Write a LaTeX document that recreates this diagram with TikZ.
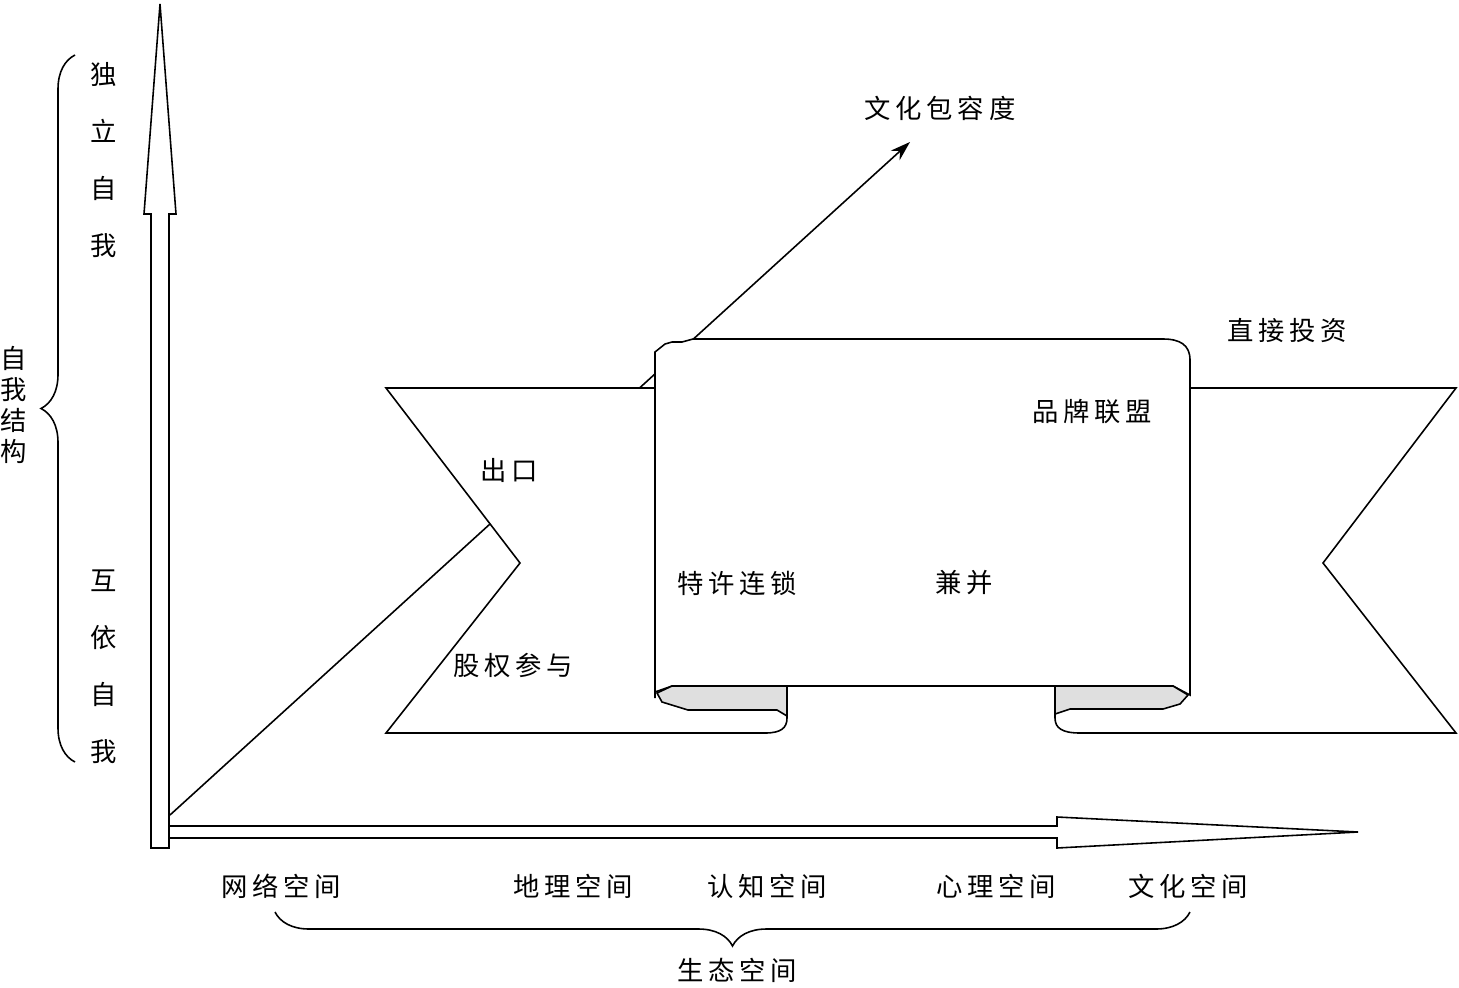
\documentclass[tikz,border=0pt]{standalone}
\usepackage{fontspec}
\newfontfamily\cjk[LetterSpace=18]{Noto Sans CJK SC}
\usetikzlibrary{arrows.meta,decorations.pathreplacing}

\tikzset{
    outline/.style={draw, line width=0.9pt, line join=miter},
    hollowarrow/.style={outline, fill=white},
    rollpart/.style={outline, fill=gray!25},
    label/.style={font=\cjk\fontsize{15}{18}\selectfont, inner sep=0pt},
    vlabel/.style={font=\cjk\fontsize{15}{32.4}\selectfont, align=center, inner sep=0pt},
    tightlabel/.style={font=\cjk\fontsize{15}{17.6}\selectfont, align=center, inner sep=0pt},
    bigbrace/.style={draw, line width=0.9pt, decorate, decoration={brace, amplitude=0.68cm}}
}

\begin{document}
\begin{tikzpicture}[x=0.02cm, y=-0.02cm]
\useasboundingbox (0,0) rectangle (1459,987);

% ===== Axes =====
\draw[hollowarrow] (151,848) -- (151,214) -- (144,214) -- (160,4) -- (176,214)
    -- (169,214) -- (169,848) -- cycle;
\draw[outline] (169,826) -- (1057,826) -- (1057,817) -- (1358,832) -- (1057,848)
    -- (1057,838) -- (169,838);

% ===== Diagonal arrow (drawn first, hidden behind ribbon) =====
\coordinate (origin) at (170,815);
\coordinate (cultip) at (910,142);
\draw[line width=0.9pt, -{Stealth[length=4mm, width=2.6mm]}] (origin) -- (cultip);

% ===== Ribbon =====
\filldraw[outline, fill=white] (655,388) -- (386,388) -- (520,563) -- (386,733)
    -- (765,733) .. controls (781,733) and (787,728) .. (787,718) -- (787,686)
    -- (655,686) -- cycle;
\filldraw[outline, fill=white] (1190,388) -- (1456,388) -- (1323,563) -- (1456,733)
    -- (1080,733) .. controls (1062,733) and (1055,728) .. (1055,718) -- (1055,686)
    -- (1190,686) -- cycle;

% ===== Scroll =====
\filldraw[outline, fill=white] (655,698) -- (655,352) -- (665,344) -- (672,342)
    -- (682,342) -- (693,339) -- (1163,339)
    .. controls (1180,339) and (1190,345) .. (1190,360) -- (1190,695)
    -- (1173,686) -- (672,686) -- (655,692) -- cycle;
\filldraw[rollpart] (672,686) -- (787,686) -- (787,716) -- (777,710) -- (688,710)
    -- (662,702) -- (657,693) -- cycle;
\filldraw[rollpart] (1055,686) -- (1173,686) -- (1188,695) -- (1180,704)
    -- (1163,709) -- (1070,709) -- (1055,714) -- cycle;

% ===== Labels in the diagram =====
\node[label] (culture) at (940,108) {文化包容度};
\node[label] (direct)  at (1287,330) {直接投资};
\node[label] (brand)   at (1092,412) {品牌联盟};
\node[label] (export)  at (509,470) {出口};
\node[label] (franch)  at (737,583) {特许连锁};
\node[label] (merge)   at (964,583) {兼并};
\node[label] (equity)  at (513,665) {股权参与};

% ===== Self-construal axis =====
\node[vlabel] (indep) at (104,160) {独\\立\\自\\我};
\node[vlabel] (inter) at (104,667) {互\\依\\自\\我};
\node[tightlabel] (self) at (14,405) {自\\我\\结\\构};
\draw[bigbrace] (75,762) -- (75,55);

% ===== Ecological space axis =====
\node[label] (net)   at (281,886) {网络空间};
\node[label] (geo)   at (573,886) {地理空间};
\node[label] (cog)   at (767,886) {认知空间};
\node[label] (psy)   at (996,886) {心理空间};
\node[label] (cul)   at (1188,886) {文化空间};
\node[label] (eco)   at (737,970) {生态空间};
\draw[bigbrace] (1190,912) -- (275,912);

\end{tikzpicture}
\end{document}
